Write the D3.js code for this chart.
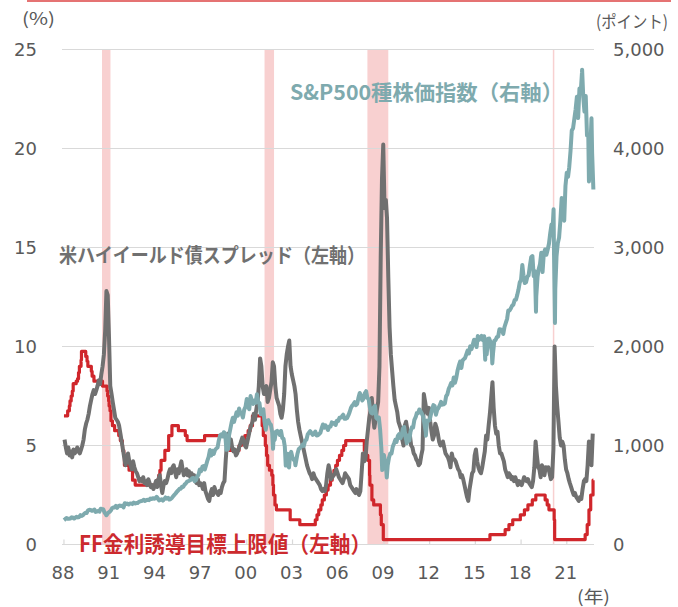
<!DOCTYPE html>
<html>
<head>
<meta charset="utf-8">
<script src="https://cdn.jsdelivr.net/npm/d3@7"></script>
<style>
  body { margin: 0; background: #fff; }
  svg { display: block; }
</style>
</head>
<body>
<svg id="chart" width="678" height="607"></svg>
<script>
// ---- data ----------------------------------------------------------------
const xTickYears = [1988, 1991, 1994, 1997, 2000, 2003, 2006, 2009, 2012, 2015, 2018, 2021];
const leftTicks = [0, 5, 10, 15, 20, 25];
const rightTicks = [0, 1000, 2000, 3000, 4000, 5000];

// recession shading (as drawn)
const recessionStarts = ["1990-07-01", "2001-03-01", "2007-12-01", "2020-02-01"];
const recessionEnds   = ["1991-01-20", "2001-10-15", "2009-04-15", "2020-03-01"];

// FF rate target (upper bound), change dates
const ffDates = [
  "1988-01-01","1988-03-30","1988-05-09","1988-05-25","1988-06-22","1988-07-19","1988-08-09","1988-10-20",
  "1988-11-22","1988-12-15","1989-01-05","1989-02-14","1989-02-24","1989-06-06","1989-07-07","1989-07-27",
  "1989-10-18","1989-11-06","1989-12-20","1990-07-13","1990-10-29","1990-11-13","1990-12-07","1990-12-18",
  "1991-01-09","1991-02-01","1991-03-08","1991-04-30","1991-08-06","1991-09-13","1991-10-31","1991-11-06",
  "1991-12-06","1991-12-20","1992-04-09","1992-07-02","1992-09-04","1994-02-04","1994-03-22","1994-04-18",
  "1994-05-17","1994-08-16","1994-11-15","1995-02-01","1995-07-06","1995-12-19","1996-01-31","1997-03-25",
  "1998-09-29","1998-10-15","1998-11-17","1999-06-30","1999-08-24","1999-11-16","2000-02-02","2000-03-21",
  "2000-05-16","2001-01-03","2001-01-31","2001-03-20","2001-04-18","2001-05-15","2001-06-27","2001-08-21",
  "2001-09-17","2001-10-02","2001-11-06","2001-12-11","2002-11-06","2003-06-25","2004-06-30","2004-08-10",
  "2004-09-21","2004-11-10","2004-12-14","2005-02-02","2005-03-22","2005-05-03","2005-06-30","2005-08-09",
  "2005-09-20","2005-11-01","2005-12-13","2006-01-31","2006-03-28","2006-05-10","2006-06-29","2007-09-18",
  "2007-10-31","2007-12-11","2008-01-22","2008-01-30","2008-03-18","2008-04-30","2008-10-08","2008-10-29",
  "2008-12-16","2015-12-17","2016-12-15","2017-03-16","2017-06-15","2017-12-14","2018-03-22","2018-06-14",
  "2018-09-27","2018-12-20","2019-08-01","2019-09-19","2019-10-31","2020-03-04","2020-03-16","2022-03-17",
  "2022-05-05","2022-06-16","2022-07-28","2022-09-22","2022-09-30"
];
const ffRates = [
  6.5, 6.75, 7.0, 7.25, 7.5, 7.75, 8.125, 8.25,
  8.375, 8.6875, 9.0, 9.3125, 9.75, 9.5, 9.25, 9.0,
  8.75, 8.5, 8.25, 8.0, 7.75, 7.5, 7.25, 7.0,
  6.75, 6.25, 6.0, 5.75, 5.5, 5.25, 5.0, 4.75,
  4.5, 4.0, 3.75, 3.25, 3.0, 3.25, 3.5, 3.75,
  4.25, 4.75, 5.5, 6.0, 5.75, 5.5, 5.25, 5.5,
  5.25, 5.0, 4.75, 5.0, 5.25, 5.5, 5.75, 6.0,
  6.5, 6.0, 5.5, 5.0, 4.5, 4.0, 3.75, 3.5,
  3.0, 2.5, 2.0, 1.75, 1.25, 1.0, 1.25, 1.5,
  1.75, 2.0, 2.25, 2.5, 2.75, 3.0, 3.25, 3.5,
  3.75, 4.0, 4.25, 4.5, 4.75, 5.0, 5.25, 4.75,
  4.5, 4.25, 3.5, 3.0, 2.25, 2.0, 1.5, 1.0,
  0.25, 0.5, 0.75, 1.0, 1.25, 1.5, 1.75, 2.0,
  2.25, 2.5, 2.25, 2.0, 1.75, 1.25, 0.25, 0.5,
  1.0, 1.75, 2.5, 3.25, 3.25
];

// US high-yield spread (%), monthly from 1988-01
const hyStart = "1988-01-15";
const hySpread = [
  5.3, 4.9, 4.6, 4.9, 4.5, 4.7, 4.4, 4.8, 4.6, 4.7, 4.9, 4.7,   // 1988
  4.6, 4.8, 5.0, 5.3, 5.8, 6.1, 6.3, 6.6, 7.0, 7.3, 7.6, 7.8,   // 1989
  7.6, 7.8, 8.0, 8.3, 8.1, 8.6, 9.0, 9.6, 10.8, 12.8, 12.6, 10.5, // 1990
  8.0, 7.6, 7.2, 6.8, 6.4, 6.3, 6.2, 6.0, 5.6, 5.2, 4.8, 4.4,   // 1991
  4.0, 4.3, 4.6, 4.2, 4.0, 3.8, 4.2, 3.9, 3.7, 3.6, 3.4, 3.2,   // 1992
  3.3, 3.2, 3.4, 3.1, 3.2, 3.0, 3.3, 3.1, 2.9, 3.0, 2.8, 3.0,   // 1993
  3.2, 2.9, 3.3, 3.5, 3.0, 2.6, 3.0, 3.2, 3.1, 3.3, 3.6, 3.8,   // 1994
  3.6, 3.9, 4.0, 3.7, 3.4, 3.8, 3.6, 3.9, 4.2, 3.8, 3.5, 3.6,   // 1995
  3.8, 3.5, 3.7, 3.4, 3.6, 3.3, 3.5, 3.2, 3.1, 3.3, 3.0, 3.1,   // 1996
  3.0, 2.8, 3.1, 2.7, 2.5, 2.3, 2.2, 2.6, 2.8, 2.5, 2.9, 2.7,   // 1997
  2.6, 2.5, 2.7, 2.6, 2.9, 3.1, 3.2, 4.3, 5.2, 5.6, 5.0, 5.3,   // 1998
  4.9, 4.7, 4.8, 4.5, 4.6, 4.8, 5.0, 5.2, 5.4, 5.3, 5.0, 4.9,   // 1999
  5.2, 5.5, 5.8, 6.0, 6.2, 6.6, 6.3, 6.8, 7.2, 8.0, 9.4, 9.0,   // 2000
  8.0, 7.6, 7.8, 8.0, 7.2, 7.4, 7.8, 8.2, 9.2, 9.0, 8.0, 7.4,   // 2001
  7.2, 7.0, 6.6, 6.4, 6.8, 7.6, 9.0, 9.6, 10.0, 10.3, 9.0, 8.6, // 2002
  8.3, 8.0, 7.6, 6.8, 6.2, 5.8, 5.5, 5.2, 4.9, 4.6, 4.3, 4.0,   // 2003
  3.8, 3.6, 3.5, 3.3, 3.6, 3.4, 3.3, 3.2, 3.1, 3.0, 2.8, 2.7,   // 2004
  2.8, 2.7, 3.0, 3.6, 4.0, 3.7, 3.3, 3.4, 3.5, 3.6, 3.8, 3.6,   // 2005
  3.4, 3.3, 3.2, 3.1, 3.3, 3.6, 3.5, 3.4, 3.3, 3.0, 2.9, 2.8,   // 2006
  2.7, 2.6, 2.8, 2.6, 2.5, 2.7, 3.6, 4.6, 4.2, 4.3, 5.2, 5.8,   // 2007
  6.4, 6.8, 7.4, 6.5, 5.9, 6.3, 6.8, 7.2, 9.0, 14.5, 18.5, 20.2, // 2008
  17.0, 17.4, 16.5, 13.5, 11.0, 9.6, 8.8, 8.0, 7.3, 7.0, 6.7, 6.2, // 2009
  6.0, 5.8, 5.3, 5.0, 6.0, 6.2, 5.8, 5.7, 5.5, 5.0, 4.9, 4.6,   // 2010
  4.5, 4.3, 4.2, 4.0, 4.1, 4.5, 4.8, 7.6, 7.2, 6.8, 6.6, 6.9,   // 2011
  6.2, 5.7, 5.3, 5.5, 6.1, 5.9, 5.6, 5.2, 5.0, 5.1, 5.2, 4.9,   // 2012
  4.6, 4.5, 4.4, 4.2, 3.9, 4.6, 4.3, 4.3, 4.2, 4.0, 3.8, 3.7,   // 2013
  3.4, 3.5, 3.3, 3.0, 2.7, 2.4, 2.2, 2.8, 3.2, 3.6, 3.7, 4.5,   // 2014
  4.8, 4.2, 3.9, 3.7, 3.6, 3.9, 4.3, 4.7, 5.5, 5.3, 6.0, 6.6,   // 2015
  7.4, 8.2, 6.9, 6.0, 5.6, 5.7, 5.0, 4.6, 4.6, 4.4, 4.2, 3.8,   // 2016
  3.6, 3.4, 3.6, 3.5, 3.3, 3.4, 3.2, 3.4, 3.2, 3.0, 3.2, 3.1,   // 2017
  3.0, 3.2, 3.4, 3.3, 3.2, 3.3, 3.1, 3.0, 2.9, 3.2, 3.9, 5.2,   // 2018
  4.5, 3.9, 3.8, 3.4, 4.0, 3.9, 3.5, 3.9, 3.8, 3.9, 3.6, 3.3,   // 2019
  3.4, 4.8, 10.0, 8.0, 7.0, 6.2, 5.4, 5.0, 5.2, 5.0, 4.3, 3.8,  // 2020
  3.6, 3.3, 3.1, 2.9, 2.7, 2.5, 2.6, 2.4, 2.3, 2.2, 2.4, 2.3,   // 2021
  2.8, 3.2, 3.3, 3.2, 4.0, 5.2, 4.6, 4.0, 5.6                   // 2022
];

// S&P 500 month-end close, from Dec 1987
const spStart = "1988-01-01";
const spClose = [
  247,
  257, 267, 259, 261, 262, 274, 272, 262, 272, 279, 274, 278,        // 1988
  297, 289, 295, 310, 321, 318, 346, 351, 349, 340, 346, 353,        // 1989
  329, 332, 340, 331, 361, 358, 356, 323, 306, 304, 322, 330,        // 1990
  344, 367, 375, 375, 390, 371, 388, 395, 388, 392, 375, 417,        // 1991
  409, 413, 404, 415, 415, 408, 424, 414, 418, 419, 431, 436,        // 1992
  439, 443, 452, 440, 450, 451, 448, 464, 459, 468, 462, 466,        // 1993
  482, 467, 446, 451, 457, 444, 458, 475, 463, 472, 454, 459,        // 1994
  470, 487, 501, 515, 533, 545, 562, 562, 584, 582, 605, 616,        // 1995
  636, 640, 646, 654, 669, 671, 640, 652, 687, 705, 757, 741,        // 1996
  786, 791, 757, 801, 848, 885, 954, 899, 947, 915, 955, 970,        // 1997
  980, 1049, 1102, 1112, 1091, 1134, 1121, 957, 1017, 1099, 1164, 1229, // 1998
  1280, 1238, 1286, 1335, 1302, 1373, 1329, 1320, 1283, 1363, 1389, 1469, // 1999
  1394, 1366, 1499, 1452, 1421, 1455, 1431, 1518, 1437, 1429, 1315, 1320, // 2000
  1366, 1240, 1160, 1249, 1256, 1224, 1211, 1134, 1041, 1060, 1139, 1148, // 2001
  1130, 1107, 1147, 1077, 1067, 990, 912, 916, 815, 886, 936, 880,   // 2002
  856, 841, 848, 917, 964, 975, 990, 1008, 996, 1051, 1058, 1112,    // 2003
  1131, 1145, 1126, 1107, 1121, 1141, 1102, 1104, 1115, 1130, 1174, 1212, // 2004
  1181, 1204, 1181, 1157, 1192, 1191, 1234, 1220, 1229, 1207, 1249, 1248, // 2005
  1280, 1281, 1295, 1311, 1270, 1270, 1277, 1304, 1336, 1378, 1401, 1418, // 2006
  1438, 1407, 1421, 1482, 1531, 1503, 1455, 1474, 1527, 1549, 1481, 1468, // 2007
  1379, 1331, 1323, 1386, 1400, 1280, 1267, 1283, 1165, 969, 896, 903,    // 2008
  826, 735, 798, 873, 919, 919, 987, 1021, 1057, 1036, 1096, 1115,   // 2009
  1074, 1104, 1169, 1187, 1089, 1031, 1102, 1049, 1141, 1183, 1181, 1258, // 2010
  1286, 1327, 1326, 1364, 1345, 1321, 1292, 1219, 1131, 1253, 1247, 1258, // 2011
  1312, 1366, 1408, 1398, 1310, 1362, 1379, 1407, 1441, 1412, 1416, 1426, // 2012
  1498, 1515, 1569, 1598, 1631, 1606, 1686, 1633, 1682, 1757, 1806, 1848, // 2013
  1783, 1859, 1872, 1884, 1924, 1960, 1931, 2003, 1972, 2018, 2068, 2059, // 2014
  1995, 2105, 2068, 2086, 2107, 2063, 2104, 1972, 1920, 2079, 2080, 2044, // 2015
  1940, 1932, 2060, 2065, 2097, 2099, 2174, 2171, 2168, 2126, 2199, 2239, // 2016
  2279, 2364, 2363, 2384, 2412, 2423, 2470, 2472, 2519, 2575, 2648, 2674, // 2017
  2824, 2714, 2641, 2648, 2705, 2718, 2816, 2902, 2914, 2712, 2760, 2507, // 2018
  2704, 2784, 2834, 2946, 2752, 2942, 2980, 2926, 2977, 3038, 3141, 3231, // 2019
  3226, 2954, 2585, 2912, 3044, 3100, 3271, 3500, 3363, 3270, 3622, 3756, // 2020
  3714, 3811, 3973, 4181, 4204, 4298, 4395, 4523, 4308, 4605, 4567, 4766, // 2021
  4516, 4374, 4530, 4132, 4132, 3785, 4130, 3955, 3586               // 2022
];
// intra-month highs / lows visible in the chart
const spExtremeDates  = ["1990-10-11","1998-10-08","2001-09-21","2002-07-23","2002-10-09","2003-03-11",
                         "2008-11-20","2009-03-09","2010-07-02","2011-10-03","2015-08-25","2016-02-11",
                         "2018-12-24","2020-02-19","2020-03-23","2022-01-03","2022-06-16","2022-08-16"];
const spExtremeValues = [295, 960, 966, 797, 777, 800,
                         752, 677, 1022, 1099, 1867, 1829,
                         2351, 3386, 2237, 4796, 3667, 4305];

// ---- setup ---------------------------------------------------------------
const svg = d3.select("#chart");
const parse = d3.timeParse("%Y-%m-%d");

const x = d3.scaleTime()
    .domain([new Date(1987, 10, 15), new Date(2022, 9, 15)])
    .range([62, 594]);
const yL = d3.scaleLinear().domain([0, 25]).range([544.5, 49.5]);
const yR = d3.scaleLinear().domain([0, 5000]).range([544.5, 49.5]);

const numFont = "'DejaVu Sans', Verdana, sans-serif";
const jpFont = "'Noto Sans CJK JP', 'Noto Sans', sans-serif";
const tickColor = "#595959";

// top rule
svg.append("line")
    .attr("x1", 27).attr("x2", 671)
    .attr("y1", 1).attr("y2", 1)
    .attr("stroke", "#e57373")
    .attr("stroke-width", 2);

// recession bands
svg.append("g")
    .selectAll("rect")
    .data(recessionStarts.map((s, i) => ({ s: parse(s), e: parse(recessionEnds[i]) })))
    .join("rect")
        .attr("x", d => x(d.s))
        .attr("width", d => Math.max(1.5, x(d.e) - x(d.s)))
        .attr("y", yL(25))
        .attr("height", yL(0) - yL(25))
        .attr("fill", "#f8d0d0");

// gridlines
svg.append("g")
    .selectAll("line")
    .data(leftTicks)
    .join("line")
        .attr("x1", x.range()[0])
        .attr("x2", x.range()[1])
        .attr("y1", d => yL(d))
        .attr("y2", d => yL(d))
        .attr("stroke", "#d9d9d9")
        .attr("stroke-width", 1.2);

// x tick marks (inside, upward)
svg.append("g")
    .selectAll("line")
    .data(xTickYears)
    .join("line")
        .attr("x1", d => x(new Date(d, 0, 1)))
        .attr("x2", d => x(new Date(d, 0, 1)))
        .attr("y1", yL(0))
        .attr("y2", yL(0) - 5)
        .attr("stroke", "#d9d9d9")
        .attr("stroke-width", 1.2);

// ---- series --------------------------------------------------------------
const ffData = ffDates.map((d, i) => ({ date: parse(d), v: ffRates[i] }));
const hyData = hySpread.map((v, i) => ({ date: d3.timeMonth.offset(parse(hyStart), i), v }));
// month-end closes sit at the last day of each month
const spData = spClose
    .map((v, i) => ({ date: d3.timeDay.offset(d3.timeMonth.offset(parse(spStart), i), -1), v }))
    .concat(spExtremeDates.map((d, i) => ({ date: parse(d), v: spExtremeValues[i] })))
    .sort((a, b) => a.date - b.date);

const ffLine = d3.line().x(d => x(d.date)).y(d => yL(d.v)).curve(d3.curveStepAfter);
const hyLine = d3.line().x(d => x(d.date)).y(d => yL(d.v));
const spLine = d3.line().x(d => x(d.date)).y(d => yR(d.v));

svg.append("path")
    .datum(ffData)
    .attr("d", ffLine)
    .attr("fill", "none")
    .attr("stroke", "#d0262b")
    .attr("stroke-width", 3.2)
    .attr("stroke-linejoin", "round");

svg.append("path")
    .datum(hyData)
    .attr("d", hyLine)
    .attr("fill", "none")
    .attr("stroke", "#707070")
    .attr("stroke-width", 4)
    .attr("stroke-linejoin", "round");

svg.append("path")
    .datum(spData)
    .attr("d", spLine)
    .attr("fill", "none")
    .attr("stroke", "#7eaaae")
    .attr("stroke-width", 4)
    .attr("stroke-linejoin", "round");

// ---- axis labels ---------------------------------------------------------
svg.append("g")
    .selectAll("text")
    .data(leftTicks)
    .join("text")
        .attr("x", 37)
        .attr("y", d => yL(d))
        .attr("dy", "0.35em")
        .attr("text-anchor", "end")
        .attr("font-family", numFont)
        .attr("font-size", 18)
        .attr("fill", tickColor)
        .text(d => d);

svg.append("g")
    .selectAll("text")
    .data(rightTicks)
    .join("text")
        .attr("x", 613)
        .attr("y", d => yR(d))
        .attr("dy", "0.35em")
        .attr("text-anchor", "start")
        .attr("font-family", numFont)
        .attr("font-size", 18)
        .attr("fill", tickColor)
        .text(d => d3.format(",")(d));

svg.append("g")
    .selectAll("text")
    .data(xTickYears)
    .join("text")
        .attr("x", d => x(new Date(d, 0, 1)) - 1)
        .attr("y", 573)
        .attr("dy", "0.35em")
        .attr("text-anchor", "middle")
        .attr("font-family", numFont)
        .attr("font-size", 18)
        .attr("fill", tickColor)
        .text(d => String(d % 100).padStart(2, "0"));

// unit labels
const unitLabels = [
    { text: "(%)", x: 22, y: 19, w: 33 },
    { text: "(ポイント)", x: 596, y: 22, w: 72 },
    { text: "(年)", x: 577, y: 597, w: 33 }
];
svg.append("g")
    .selectAll("text")
    .data(unitLabels)
    .join("text")
        .attr("x", d => d.x)
        .attr("y", d => d.y)
        .attr("dy", "0.35em")
        .attr("font-family", jpFont)
        .attr("font-size", 17)
        .attr("fill", tickColor)
        .attr("textLength", d => d.w)
        .attr("lengthAdjust", "spacingAndGlyphs")
        .text(d => d.text);

// series labels
const seriesLabels = [
    { text: "S&P500種株価指数（右軸）", x: 290, y: 92, w: 273, size: 21, color: "#7eaaae" },
    { text: "米ハイイールド債スプレッド（左軸）", x: 59, y: 256, w: 306, size: 20, color: "#707070" },
    { text: "FF金利誘導目標上限値（左軸）", x: 79, y: 544, w: 292, size: 22, color: "#cc2a2e" }
];
svg.append("g")
    .selectAll("text")
    .data(seriesLabels)
    .join("text")
        .attr("x", d => d.x)
        .attr("y", d => d.y)
        .attr("dy", "0.36em")
        .attr("font-family", jpFont)
        .attr("font-weight", 700)
        .attr("font-size", d => d.size)
        .attr("fill", d => d.color)
        .attr("textLength", d => d.w)
        .attr("lengthAdjust", "spacingAndGlyphs")
        .text(d => d.text);
</script>
</body>
</html>
